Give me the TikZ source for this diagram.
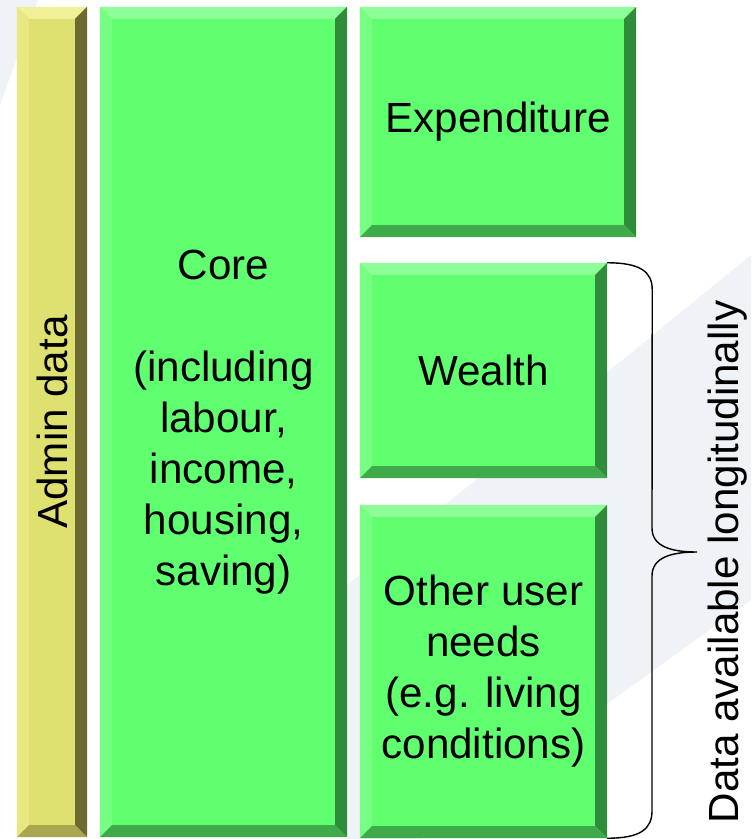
\documentclass[tikz,border=0pt]{standalone}
\usepackage{fontspec}
\setmainfont{Liberation Sans}

\definecolor{boxgreen}{RGB}{96,255,112}
\definecolor{greentop}{RGB}{142,255,152}
\definecolor{greenleft}{RGB}{118,255,130}
\definecolor{greenright}{RGB}{48,140,58}
\definecolor{greenbottom}{RGB}{62,170,74}
\definecolor{boxyellow}{RGB}{222,224,112}
\definecolor{yellowtop}{RGB}{240,240,152}
\definecolor{yellowleft}{RGB}{232,232,130}
\definecolor{yellowright}{RGB}{108,106,48}
\definecolor{yellowbottom}{RGB}{168,166,78}
\definecolor{watermark}{RGB}{239,242,246}

\newcommand{\bevw}{0.36cm}
% four faces of the bevel: top, left, right, bottom
\newcommand{\bevelfaces}[4]{%
  \fill[#1] (path picture bounding box.north west) -- (path picture bounding box.north east)
    -- ([shift={(-\bevw,-\bevw)}]path picture bounding box.north east)
    -- ([shift={(\bevw,-\bevw)}]path picture bounding box.north west) -- cycle;
  \fill[#2] (path picture bounding box.north west) -- (path picture bounding box.south west)
    -- ([shift={(\bevw,\bevw)}]path picture bounding box.south west)
    -- ([shift={(\bevw,-\bevw)}]path picture bounding box.north west) -- cycle;
  \fill[#3] (path picture bounding box.north east) -- (path picture bounding box.south east)
    -- ([shift={(-\bevw,\bevw)}]path picture bounding box.south east)
    -- ([shift={(-\bevw,-\bevw)}]path picture bounding box.north east) -- cycle;
  \fill[#4] (path picture bounding box.south west) -- (path picture bounding box.south east)
    -- ([shift={(-\bevw,\bevw)}]path picture bounding box.south east)
    -- ([shift={(\bevw,\bevw)}]path picture bounding box.south west) -- cycle;
}

\begin{document}
\begin{tikzpicture}[x=0.03cm, y=-0.03cm,
    greenbox/.style={rectangle, fill=boxgreen, inner sep=0pt, align=center,
      path picture={\bevelfaces{greentop}{greenleft}{greenright}{greenbottom}}},
    yellowbox/.style={rectangle, fill=boxyellow, inner sep=0pt,
      path picture={\bevelfaces{yellowtop}{yellowleft}{yellowright}{yellowbottom}}},
    bigtext/.style={font=\fontsize{36}{43.5}\selectfont}]
    \useasboundingbox (0,0) rectangle (751,839);
    % faint background shapes
    \fill[watermark] (751,255) -- (347,585) -- (347,839) -- (420,839) -- (751,600) -- cycle;
    \fill[watermark] (0,0) -- (38,0) -- (0,105) -- cycle;

    \node[yellowbox, minimum width=2.1cm, minimum height=24.9cm] at (52, 422) (admin) {};
    \node[bigtext, rotate=90] at (admin.center) (admintext) {Admin data};
    \node[greenbox, bigtext, minimum width=7.41cm, minimum height=24.9cm] at (223.5, 422) (core)
      {Core\\[43.5pt](including\\labour,\\income,\\housing,\\saving)};
    \node[greenbox, bigtext, minimum width=8.28cm, minimum height=6.9cm] at (498, 122) (expend) {Expenditure};
    \node[greenbox, bigtext, minimum width=7.41cm, minimum height=6.45cm] at (483.5, 370.5) (wealth) {Wealth};
    \node[greenbox, bigtext, minimum width=7.41cm, minimum height=9.99cm] at (483.5, 671.5) (other)
      {Other user\\needs\\(e.g. living\\conditions)};

    \coordinate (bracetip) at (697, 552);
    \draw[line width=1.2pt] (wealth.north east) .. controls +(33,0) and +(0,-18) .. ++(45,27)
      -- (652,528) .. controls +(0,18) and +(-27,0) .. (bracetip)
      .. controls +(-27,0) and +(0,-18) .. (652,576)
      -- (652,811) .. controls +(0,18) and +(33,0) .. (other.south east);
    \node[bigtext, rotate=90] at (728, 562) (longtext) {Data available longitudinally};
    \end{tikzpicture}
\end{document}
